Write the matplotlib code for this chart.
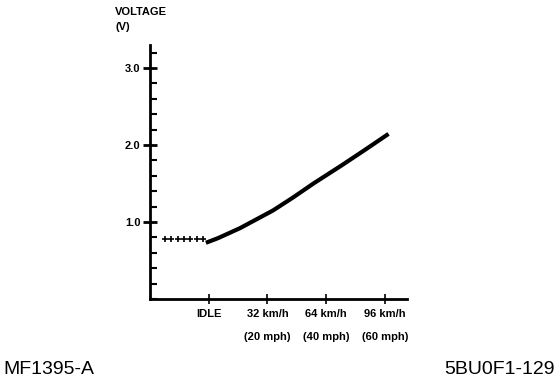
import numpy as np
import matplotlib
matplotlib.use("Agg")
from matplotlib import pyplot as plt
from matplotlib.ticker import MultipleLocator

# idle portion (dotted) and driving curve, speed in km/h (IDLE = 0)
idle_speed = [-24, -20.5, -17, -13.5, -10, -6.5, -3]
idle_volt = [0.78, 0.78, 0.78, 0.78, 0.78, 0.78, 0.78]
drive_speed = [-0.5, 5, 17, 35, 46, 57, 72, 84, 97]
drive_volt = [0.74, 0.79, 0.92, 1.15, 1.32, 1.50, 1.73, 1.92, 2.13]

x_ticks = [0, 32, 64, 96]
x_labels = ["IDLE", "32 km/h\n\n(20 mph)", "64 km/h\n\n(40 mph)", "96 km/h\n\n(60 mph)"]
y_ticks = [1.0, 2.0, 3.0]

plt.rcParams['font.family'] = ['Liberation Sans', 'DejaVu Sans']

W, H = 560, 382
fig = plt.figure(figsize=(W / 100, H / 100), dpi=100)
ax = fig.add_axes([150 / W, (H - 299) / H, (407 - 150) / W, (299 - 45) / H])

ax.plot(idle_speed, idle_volt, color='black', linestyle='none', marker='+', markersize=4, markeredgewidth=1.2)
ax.plot(drive_speed, drive_volt, color='black', linewidth=3)

ax.set_xlim(-32, 108)
ax.set_ylim(0, 3.3)

for s in ['top', 'right']:
    ax.spines[s].set_visible(False)
for s in ['left', 'bottom']:
    ax.spines[s].set_linewidth(2)

ax.set_xticks(x_ticks)
ax.set_xticklabels(x_labels, fontsize=8, fontweight='bold', va='top', linespacing=1.15)
ax.tick_params(axis='x', direction='inout', length=7, width=1.2, pad=4)

ax.set_yticks(y_ticks)
ax.set_yticklabels(["%.1f" % v for v in y_ticks], fontsize=8, fontweight='bold')
ax.yaxis.set_minor_locator(MultipleLocator(0.2))
ax.tick_params(axis='y', which='major', direction='inout', length=10, width=2, pad=2)
ax.tick_params(axis='y', which='minor', direction='in', length=5, width=1.5)

fig.text(115 / W, 1 - 12 / H, "VOLTAGE", fontsize=8, fontweight='bold', va='center')
fig.text(115 / W, 1 - 27 / H, "(V)", fontsize=8, fontweight='bold', va='center')
fig.text(3 / W, 1 - 369 / H, "MF1395-A", fontsize=14, va='center')
fig.text(555 / W, 1 - 369 / H, "5BU0F1-129", fontsize=14, va='center', ha='right')

fig.savefig("out.png", dpi=100, facecolor='white')
